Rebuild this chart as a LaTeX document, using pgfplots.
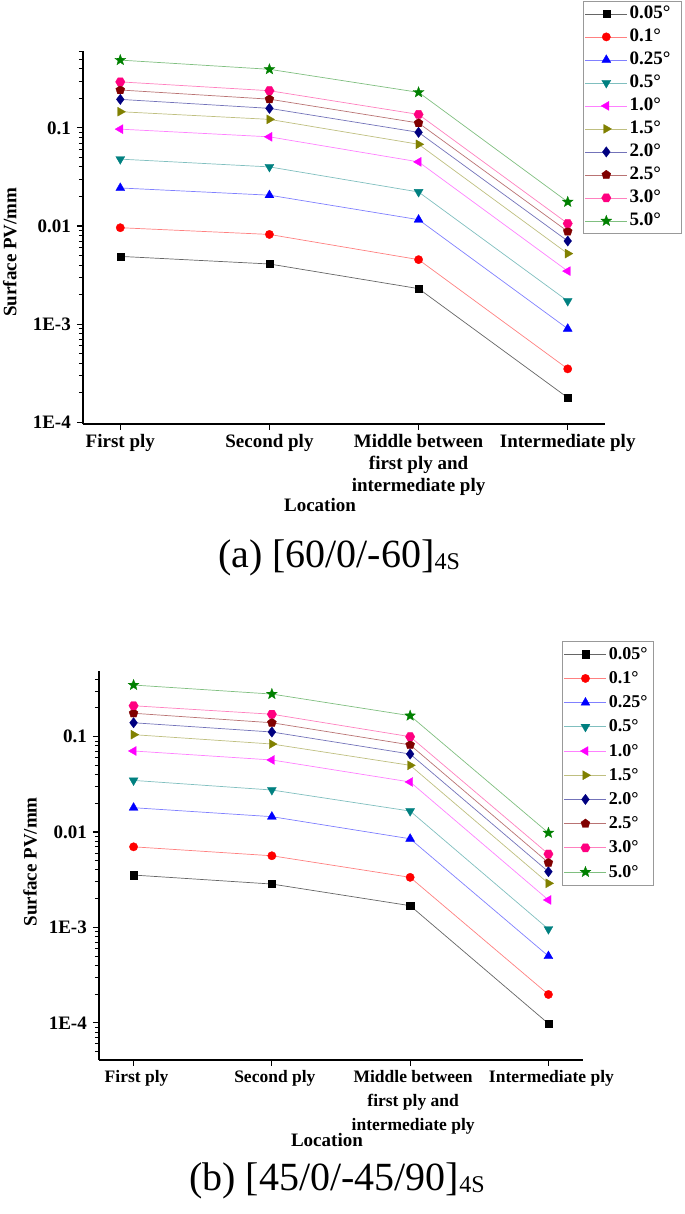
\documentclass[border=0pt]{standalone}
\usepackage{fontspec}
\setmainfont{Liberation Serif}
\usepackage{pgfplots}
\usepackage{pgfplotstable}
\pgfplotsset{compat=1.18}
\usetikzlibrary{plotmarks}

\definecolor{cteal}{RGB}{0,128,128}
\definecolor{cmag}{RGB}{255,0,255}
\definecolor{colive}{RGB}{128,128,0}
\definecolor{cnavy}{RGB}{0,0,128}
\definecolor{cmaroon}{RGB}{128,0,0}
\definecolor{cpink}{RGB}{255,0,128}
\definecolor{cgreen}{RGB}{0,128,0}
\definecolor{cred}{RGB}{255,0,0}
\definecolor{cblue}{RGB}{0,0,255}

\pgfdeclareplotmark{hexagon*}{%
  \pgfpathmoveto{\pgfqpointpolar{0}{\pgfplotmarksize}}%
  \pgfpathlineto{\pgfqpointpolar{60}{\pgfplotmarksize}}%
  \pgfpathlineto{\pgfqpointpolar{120}{\pgfplotmarksize}}%
  \pgfpathlineto{\pgfqpointpolar{180}{\pgfplotmarksize}}%
  \pgfpathlineto{\pgfqpointpolar{240}{\pgfplotmarksize}}%
  \pgfpathlineto{\pgfqpointpolar{300}{\pgfplotmarksize}}%
  \pgfpathclose
  \pgfusepathqfillstroke}
\pgfdeclareplotmark{star5*}{%
  \pgfpathmoveto{\pgfqpointpolar{90}{\pgfplotmarksize}}%
  \pgfpathlineto{\pgfqpointpolar{126}{0.42\pgfplotmarksize}}%
  \pgfpathlineto{\pgfqpointpolar{162}{\pgfplotmarksize}}%
  \pgfpathlineto{\pgfqpointpolar{198}{0.42\pgfplotmarksize}}%
  \pgfpathlineto{\pgfqpointpolar{234}{\pgfplotmarksize}}%
  \pgfpathlineto{\pgfqpointpolar{270}{0.42\pgfplotmarksize}}%
  \pgfpathlineto{\pgfqpointpolar{306}{\pgfplotmarksize}}%
  \pgfpathlineto{\pgfqpointpolar{342}{0.42\pgfplotmarksize}}%
  \pgfpathlineto{\pgfqpointpolar{18}{\pgfplotmarksize}}%
  \pgfpathlineto{\pgfqpointpolar{54}{0.42\pgfplotmarksize}}%
  \pgfpathclose
  \pgfusepathqfillstroke}

% panel (a): [60/0/-60]4S
\pgfplotstableread{
x  s005     s01      s025     s05      s10      s15      s20      s25      s30      s50
0  0.0049   0.0096   0.0244   0.048    0.097    0.146    0.195    0.243    0.294    0.49
1  0.0041   0.0082   0.0206   0.040    0.081    0.122    0.158    0.196    0.239    0.395
2  0.0023   0.00454  0.0116   0.0222   0.045    0.068    0.090    0.112    0.137    0.23
3  0.000178 0.00035  0.000897 0.00172  0.00347  0.00523  0.00703  0.0088   0.0106   0.0176
}\tableA
% panel (b): [45/0/-45/90]4S
\pgfplotstableread{
x  s005     s01      s025     s05      s10      s15      s20      s25      s30      s50
0  0.00354  0.0070   0.0180   0.0348   0.0708   0.105    0.140    0.176    0.211    0.348
1  0.00285  0.00564  0.0145   0.0276   0.057    0.0838   0.112    0.140    0.172    0.28
2  0.00169  0.00335  0.0085   0.0166   0.0335   0.0501   0.0658   0.082    0.100    0.166
3  0.000098 0.000198 0.0005   0.00096  0.00194  0.0029   0.00384  0.00477  0.00588  0.0098
}\tableB

\newcommand{\lblfont}{\fontsize{19bp}{22bp}\selectfont\bfseries}
\newcommand{\lblfontb}{\fontsize{17.5bp}{24bp}\selectfont\bfseries}

\pgfplotsset{
  every axis/.append style={
    scale only axis,
    axis x line*=bottom, axis y line*=left,
    axis line style={-, line width=1.2bp},
    xmin=-0.25, xmax=3.25,
    xtick={0,1,2,3},
    xticklabels={First ply, Second ply, {Middle between\\first ply and\\intermediate ply}, Intermediate ply},
    yticklabel={\pgfmathtruncatemacro\expo{round(-\tick/2.302585)}\ifnum\expo=1 0.1\else\ifnum\expo=2 0.01\else 1E-\expo\fi\fi},
    tick align=outside,
    major tick length=6bp, minor tick length=4bp,
    major tick style={black, line width=1.2bp},
    minor tick style={black, line width=1bp},
    ticklabel style={font=\lblfont},
    xticklabel style={align=center, anchor=north, inner sep=0pt, yshift=-4bp},
    yticklabel style={inner sep=0pt, xshift=-6bp},
    label style={font=\lblfont},
    legend cell align=left,
    legend style={draw=gray!80, line width=0.8bp, font=\lblfont, anchor=north west,
      inner xsep=2bp, inner ysep=1bp, row sep=0pt},
  },
  legend image code/.code={\draw[mark repeat=2, mark phase=2, #1] plot coordinates {(0bp,0bp) (21bp,0bp) (42bp,0bp)};},
}

\begin{document}
\begin{tikzpicture}
\useasboundingbox (0,0) rectangle (685bp,1214bp);

\begin{axis}[
  ymode=log,
  at={(83bp,790bp)}, anchor=south west,
  width=522bp, height=373bp,
  ymin=9.6e-5, ymax=0.607,
  xlabel={Location}, ylabel={Surface PV/mm},
  xlabel style={at={(axis description cs:0.454,-0.217)}, anchor=center},
  ylabel style={at={(axis description cs:-0.14,0.461)}, anchor=center},
  legend style={at={(axis description cs:0.957,1.134)},
    nodes={inner ysep=3.5bp, text height=13bp, text depth=3bp}},
]
\addplot[color=black!60, line width=0.7bp, mark=square*, mark size=3.6bp, mark options={draw=black, fill=black, line width=0.3bp}] table[x=x,y=s005] {\tableA}; \addlegendentry{0.05°\hspace*{7bp}}
\addplot[color=cred!50, line width=0.7bp, mark=*, mark size=4.2bp, mark options={draw=cred, fill=cred, line width=0.3bp}] table[x=x,y=s01] {\tableA}; \addlegendentry{0.1°}
\addplot[color=cblue!50, line width=0.7bp, mark=triangle*, mark size=5.2bp, mark options={draw=cblue, fill=cblue, line width=0.3bp}] table[x=x,y=s025] {\tableA}; \addlegendentry{0.25°}
\addplot[color=cteal!50, line width=0.7bp, mark=triangle*, mark size=5.2bp, mark options={draw=cteal, fill=cteal, rotate=180, line width=0.3bp}] table[x=x,y=s05] {\tableA}; \addlegendentry{0.5°}
\addplot[color=cmag!50, line width=0.7bp, mark=triangle*, mark size=5.2bp, mark options={draw=cmag, fill=cmag, rotate=90, line width=0.3bp}] table[x=x,y=s10] {\tableA}; \addlegendentry{1.0°}
\addplot[color=colive!50, line width=0.7bp, mark=triangle*, mark size=5.2bp, mark options={draw=colive, fill=colive, rotate=-90, line width=0.3bp}] table[x=x,y=s15] {\tableA}; \addlegendentry{1.5°}
\addplot[color=cnavy!55, line width=0.7bp, mark=diamond*, mark size=5.2bp, mark options={draw=cnavy, fill=cnavy, line width=0.3bp}] table[x=x,y=s20] {\tableA}; \addlegendentry{2.0°}
\addplot[color=cmaroon!55, line width=0.7bp, mark=pentagon*, mark size=4.7bp, mark options={draw=cmaroon, fill=cmaroon, line width=0.3bp}] table[x=x,y=s25] {\tableA}; \addlegendentry{2.5°}
\addplot[color=cpink!50, line width=0.7bp, mark=hexagon*, mark size=4.7bp, mark options={draw=cpink, fill=cpink, line width=0.3bp}] table[x=x,y=s30] {\tableA}; \addlegendentry{3.0°}
\addplot[color=cgreen!50, line width=0.7bp, mark=star5*, mark size=5.7bp, mark options={draw=cgreen, fill=cgreen, line width=0.3bp}] table[x=x,y=s50] {\tableA}; \addlegendentry{5.0°}
\end{axis}

\node[anchor=base, font=\fontsize{40bp}{42bp}\selectfont, inner sep=0pt] at (339bp,646bp)
  {(a) [60/0/-60]\raisebox{-2bp}{\fontsize{24bp}{24bp}\selectfont 4S}};

\begin{axis}[
  ymode=log,
  at={(99bp,154bp)}, anchor=south west,
  width=484bp, height=389.3bp,
  ymin=4.07e-5, ymax=0.492,
  xticklabel style={font=\lblfontb, xshift=3bp},
  xlabel={Location}, ylabel={Surface PV/mm},
  xlabel style={at={(axis description cs:0.471,-0.206)}, anchor=center},
  ylabel style={at={(axis description cs:-0.1426,0.509)}, anchor=center},
  legend style={at={(axis description cs:0.956,1.077)}, font=\fontsize{18bp}{22bp}\selectfont\bfseries,
    nodes={inner ysep=4.1bp, text height=13bp, text depth=3bp}},
]
\addplot[color=black!60, line width=0.7bp, mark=square*, mark size=3.6bp, mark options={draw=black, fill=black, line width=0.3bp}] table[x=x,y=s005] {\tableB}; \addlegendentry{0.05°\hspace*{2bp}}
\addplot[color=cred!50, line width=0.7bp, mark=*, mark size=4.2bp, mark options={draw=cred, fill=cred, line width=0.3bp}] table[x=x,y=s01] {\tableB}; \addlegendentry{0.1°}
\addplot[color=cblue!50, line width=0.7bp, mark=triangle*, mark size=5.2bp, mark options={draw=cblue, fill=cblue, line width=0.3bp}] table[x=x,y=s025] {\tableB}; \addlegendentry{0.25°}
\addplot[color=cteal!50, line width=0.7bp, mark=triangle*, mark size=5.2bp, mark options={draw=cteal, fill=cteal, rotate=180, line width=0.3bp}] table[x=x,y=s05] {\tableB}; \addlegendentry{0.5°}
\addplot[color=cmag!50, line width=0.7bp, mark=triangle*, mark size=5.2bp, mark options={draw=cmag, fill=cmag, rotate=90, line width=0.3bp}] table[x=x,y=s10] {\tableB}; \addlegendentry{1.0°}
\addplot[color=colive!50, line width=0.7bp, mark=triangle*, mark size=5.2bp, mark options={draw=colive, fill=colive, rotate=-90, line width=0.3bp}] table[x=x,y=s15] {\tableB}; \addlegendentry{1.5°}
\addplot[color=cnavy!55, line width=0.7bp, mark=diamond*, mark size=5.2bp, mark options={draw=cnavy, fill=cnavy, line width=0.3bp}] table[x=x,y=s20] {\tableB}; \addlegendentry{2.0°}
\addplot[color=cmaroon!55, line width=0.7bp, mark=pentagon*, mark size=4.7bp, mark options={draw=cmaroon, fill=cmaroon, line width=0.3bp}] table[x=x,y=s25] {\tableB}; \addlegendentry{2.5°}
\addplot[color=cpink!50, line width=0.7bp, mark=hexagon*, mark size=4.7bp, mark options={draw=cpink, fill=cpink, line width=0.3bp}] table[x=x,y=s30] {\tableB}; \addlegendentry{3.0°}
\addplot[color=cgreen!50, line width=0.7bp, mark=star5*, mark size=5.7bp, mark options={draw=cgreen, fill=cgreen, line width=0.3bp}] table[x=x,y=s50] {\tableB}; \addlegendentry{5.0°}
\end{axis}

\node[anchor=base, font=\fontsize{40bp}{42bp}\selectfont, inner sep=0pt] at (337bp,24bp)
  {(b) [45/0/-45/90]\raisebox{-2bp}{\fontsize{24bp}{24bp}\selectfont 4S}};
\end{tikzpicture}
\end{document}
